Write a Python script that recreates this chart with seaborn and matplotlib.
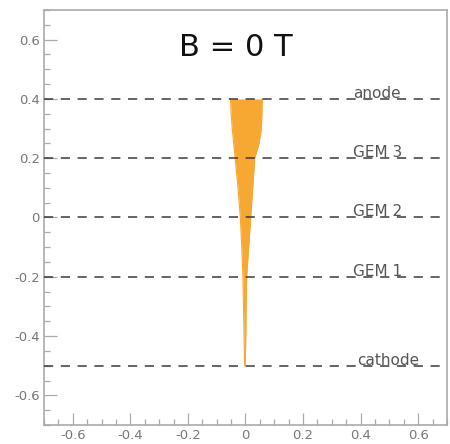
import numpy as np
import pandas as pd
import matplotlib
matplotlib.use("Agg")
import matplotlib.pyplot as plt
from matplotlib.ticker import MultipleLocator
import seaborn as sns

# ---- data ----
electrode_names = ["anode", "GEM 3", "GEM 2", "GEM 1", "cathode"]
electrode_z = [0.4, 0.2, 0.0, -0.2, -0.5]

cloud_z = [0.4, 0.35, 0.3, 0.25, 0.2, 0.1, 0.0, -0.1, -0.2, -0.3, -0.4, -0.5]
cloud_left = [-0.052, -0.050, -0.046, -0.041, -0.036, -0.026, -0.018, -0.013, -0.009, -0.007, -0.005, -0.003]
cloud_right = [0.058, 0.057, 0.055, 0.047, 0.032, 0.025, 0.018, 0.011, 0.004, 0.002, 0.001, -0.001]

title_text = "B = 0 T"

# ---- style ----
sns.set_style("white")
plt.rcParams["font.family"] = ["DejaVu Sans"]

fig = plt.figure(figsize=(4.5, 4.44), dpi=100)
ax = fig.add_axes([0.0978, 0.0428, 0.8955, 0.9347])

orange = "#F7A832"
df = pd.DataFrame({"z": cloud_z, "left": cloud_left, "right": cloud_right})
ax.fill_betweenx(df["z"], df["left"], df["right"], color=orange, linewidth=0, zorder=2)
sns.lineplot(data=df, x="left", y="z", orient="y", color=orange, lw=0.8, ax=ax, zorder=2)
sns.lineplot(data=df, x="right", y="z", orient="y", color=orange, lw=0.8, ax=ax, zorder=2)

for name, z in zip(electrode_names, electrode_z):
    ax.axhline(z, color="#3a3a3a", lw=1.1, ls=(0, (6, 5)), zorder=3)
    xoff = 0.387 if name == "cathode" else 0.375
    ax.text(xoff, z + 0.004, name, ha="left", va="baseline", fontsize=11,
            color="#555555", zorder=4)

ax.text(-0.035, 0.574, title_text, ha="center", va="center", fontsize=22, color="#111111")

ax.set_xlim(-0.7, 0.7)
ax.set_ylim(-0.7, 0.7)
ax.set_xlabel("")
ax.set_ylabel("")
ax.xaxis.set_major_locator(MultipleLocator(0.2))
ax.xaxis.set_minor_locator(MultipleLocator(0.05))
ax.yaxis.set_major_locator(MultipleLocator(0.2))
ax.yaxis.set_minor_locator(MultipleLocator(0.05))

def fmt(v, pos):
    v = round(v, 2)
    if abs(v) < 1e-9:
        return "0"
    return f"{v:g}"
ax.xaxis.set_major_formatter(plt.FuncFormatter(fmt))
ax.yaxis.set_major_formatter(plt.FuncFormatter(fmt))

ax.tick_params(axis="both", which="both", bottom=True, left=True, top=False, right=False)
ax.tick_params(axis="both", which="major", direction="in", length=9, width=0.9,
               color="#aaaaaa", labelcolor="#777777", labelsize=9.5, pad=3)
ax.tick_params(axis="both", which="minor", direction="in", length=4.5, width=0.9,
               color="#aaaaaa")

for s in ax.spines.values():
    s.set_color("#aaaaaa")
    s.set_linewidth(1.2)

fig.savefig("out.png", dpi=100)
